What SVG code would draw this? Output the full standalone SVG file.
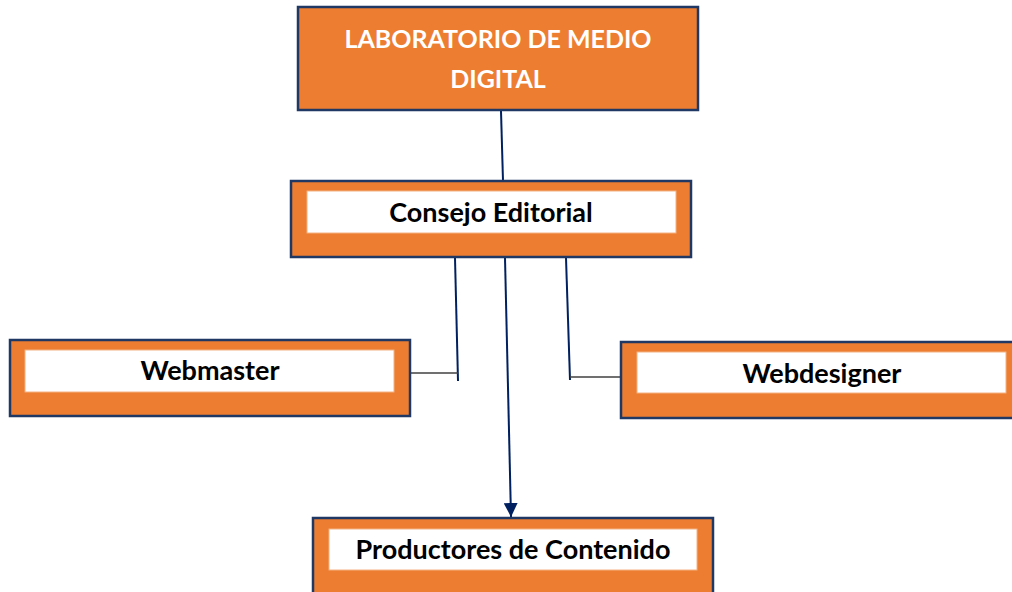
<svg xmlns="http://www.w3.org/2000/svg" width="1012" height="592" viewBox="0 0 1012 592">
<defs>
<style>
.box{fill:#ED7D31;stroke:#1F3864;stroke-width:2.5}
.inner{fill:#FFFFFF;stroke:#F4B183;stroke-width:1}
.t{font-family:Lato,"Liberation Sans",sans-serif;font-weight:bold;font-size:27px;text-anchor:middle;dominant-baseline:central;fill:#000}
.tw{fill:#FFFFFF;font-size:25px}
.c{stroke:#002060;stroke-width:2;fill:none}
.h{stroke:#404040;stroke-width:1.5;fill:none}
</style>
<marker id="arr" markerWidth="15" markerHeight="14" refX="14" refY="7" orient="auto" markerUnits="userSpaceOnUse">
<path d="M0,0 L14,7 L0,14 Z" fill="#002060"/>
</marker>
</defs>
<rect width="1012" height="592" fill="#FFFFFF"/>
<g id="connectors">
<line class="c" x1="501" y1="111" x2="503" y2="181"/>
<line class="c" x1="455" y1="258" x2="458" y2="381"/>
<line class="h" x1="409" y1="373" x2="458" y2="373"/>
<line class="c" x1="566" y1="258" x2="570" y2="380"/>
<line class="h" x1="570" y1="377" x2="621" y2="377"/>
<line class="c" x1="505" y1="258" x2="511" y2="517" marker-end="url(#arr)"/>
</g>
<g id="lab">
<rect class="box" x="298" y="7" width="400" height="103"/>
<text class="t tw" x="498" y="38">LABORATORIO DE MEDIO</text>
<text class="t tw" x="498" y="78">DIGITAL</text>
</g>
<g id="consejo">
<rect class="box" x="291" y="181" width="400" height="76"/>
<rect class="inner" x="307" y="191" width="369" height="42"/>
<text class="t" x="491" y="211">Consejo Editorial</text>
</g>
<g id="webmaster">
<rect class="box" x="10" y="340" width="400" height="76"/>
<rect class="inner" x="25" y="350" width="369" height="42"/>
<text class="t" x="210" y="369">Webmaster</text>
</g>
<g id="webdesigner">
<rect class="box" x="621" y="342" width="400" height="76"/>
<rect class="inner" x="637" y="352" width="369" height="41"/>
<text class="t" x="822" y="372">Webdesigner</text>
</g>
<g id="productores">
<rect class="box" x="313" y="518" width="400" height="90"/>
<rect class="inner" x="329" y="529" width="368" height="41"/>
<text class="t" x="513" y="548">Productores de Contenido</text>
</g>
</svg>
